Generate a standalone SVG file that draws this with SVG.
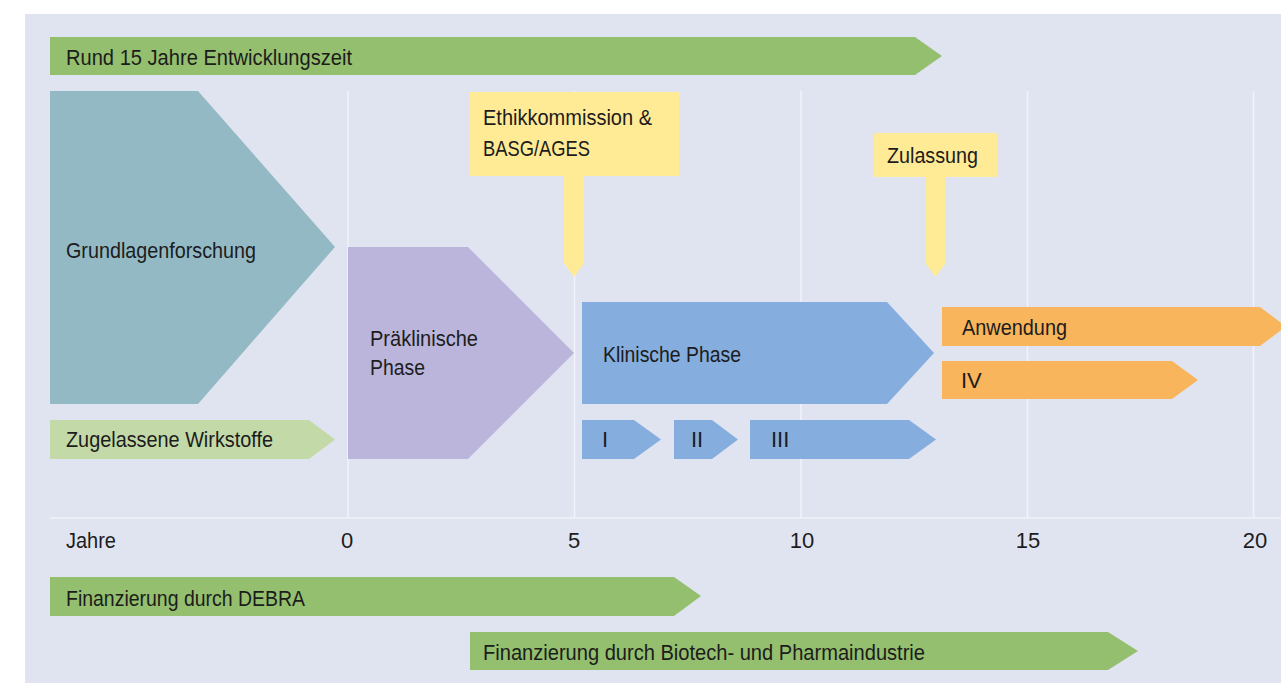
<svg xmlns="http://www.w3.org/2000/svg" width="1281" height="683" viewBox="0 0 1281 683">
<style>
text{font-family:"Liberation Sans",Arial,sans-serif;font-size:22px;fill:#1c1c1c}
.grid{stroke:#F1F3F9;stroke-width:1.5;fill:none}
.g1{fill:#94BF6E}
.g2{fill:#C3DAA8}
.teal{fill:#93BAC4}
.purple{fill:#BBB5DB}
.blue{fill:#85ADDE}
.orange{fill:#F8B55C}
.yellow{fill:#FFEA96}
.num{text-anchor:middle}
</style>
<rect x="0" y="0" width="1281" height="683" fill="#FFFFFF"/>
<rect x="25" y="14" width="1256" height="669" fill="#E0E4F0"/>
<g id="grid">
<line class="grid" x1="348" y1="91" x2="348" y2="518"/>
<line class="grid" x1="574.5" y1="91" x2="574.5" y2="518"/>
<line class="grid" x1="801" y1="91" x2="801" y2="518"/>
<line class="grid" x1="1027.5" y1="91" x2="1027.5" y2="518"/>
<line class="grid" x1="1253.5" y1="91" x2="1253.5" y2="518"/>
<line class="grid" x1="50" y1="518" x2="1281" y2="518"/>
</g>
<g id="connectors"></g>
<g id="entwicklungszeit">
<polygon class="g1" points="50,37 915,37 942,56 915,75 50,75"/>
<text x="66" y="65" textLength="286" lengthAdjust="spacingAndGlyphs">Rund 15 Jahre Entwicklungszeit</text>
</g>
<g id="grundlagenforschung">
<polygon class="teal" points="50,91 198,91 335,247 198,404 50,404"/>
<text x="66" y="258" textLength="190" lengthAdjust="spacingAndGlyphs">Grundlagenforschung</text>
</g>
<g id="ethikkommission">
<polygon class="yellow" points="470,92 679,92 679,176 584,176 584,263 574,277 564,263 564,176 470,176"/>
<text x="483" y="125" textLength="169" lengthAdjust="spacingAndGlyphs">Ethikkommission &amp;</text>
<text x="483" y="156" textLength="107" lengthAdjust="spacingAndGlyphs">BASG/AGES</text>
</g>
<g id="zulassung">
<polygon class="yellow" points="874,133 997,133 997,177 945,177 945,264 935.5,277 926,264 926,177 874,177"/>
<text x="887" y="163" textLength="91" lengthAdjust="spacingAndGlyphs">Zulassung</text>
</g>
<g id="praeklinische-phase">
<polygon class="purple" points="348,247 468,247 574,353 468,459 348,459"/>
<text x="370" y="346" textLength="108" lengthAdjust="spacingAndGlyphs">Präklinische</text>
<text x="370" y="375" textLength="55" lengthAdjust="spacingAndGlyphs">Phase</text>
</g>
<g id="klinische-phase">
<polygon class="blue" points="582,302 887,302 934,353 887,404 582,404"/>
<text x="603" y="362" textLength="138" lengthAdjust="spacingAndGlyphs">Klinische Phase</text>
</g>
<g id="phase-i">
<polygon class="blue" points="582,420 634,420 661,439.5 634,459 582,459"/>
<text x="602" y="447">I</text>
</g>
<g id="phase-ii">
<polygon class="blue" points="674,420 712,420 738,439.5 712,459 674,459"/>
<text x="691" y="447">II</text>
</g>
<g id="phase-iii">
<polygon class="blue" points="750,420 909,420 936,439.5 909,459 750,459"/>
<text x="771" y="447">III</text>
</g>
<g id="anwendung">
<polygon class="orange" points="942,307 1260,307 1286,326.5 1260,346 942,346"/>
<text x="962" y="335" textLength="105" lengthAdjust="spacingAndGlyphs">Anwendung</text>
</g>
<g id="phase-iv">
<polygon class="orange" points="942,361 1172,361 1198,380 1172,399 942,399"/>
<text x="961" y="388">IV</text>
</g>
<g id="zugelassene-wirkstoffe">
<polygon class="g2" points="50,420 309,420 335,439.5 309,459 50,459"/>
<text x="66" y="447" textLength="207" lengthAdjust="spacingAndGlyphs">Zugelassene Wirkstoffe</text>
</g>
<g id="achse">
<text x="66" y="548" textLength="50" lengthAdjust="spacingAndGlyphs">Jahre</text>
<text class="num" x="347" y="548">0</text>
<text class="num" x="574" y="548">5</text>
<text class="num" x="802" y="548">10</text>
<text class="num" x="1028" y="548">15</text>
<text class="num" x="1255" y="548">20</text>
</g>
<g id="finanzierung-debra">
<polygon class="g1" points="50,577 674,577 701,596 674,616 50,616"/>
<text x="66" y="606" textLength="239" lengthAdjust="spacingAndGlyphs">Finanzierung durch DEBRA</text>
</g>
<g id="finanzierung-industrie">
<polygon class="g1" points="470,632 1108,632 1138,651 1108,670 470,670"/>
<text x="483" y="660" textLength="442" lengthAdjust="spacingAndGlyphs">Finanzierung durch Biotech- und Pharmaindustrie</text>
</g>
</svg>
